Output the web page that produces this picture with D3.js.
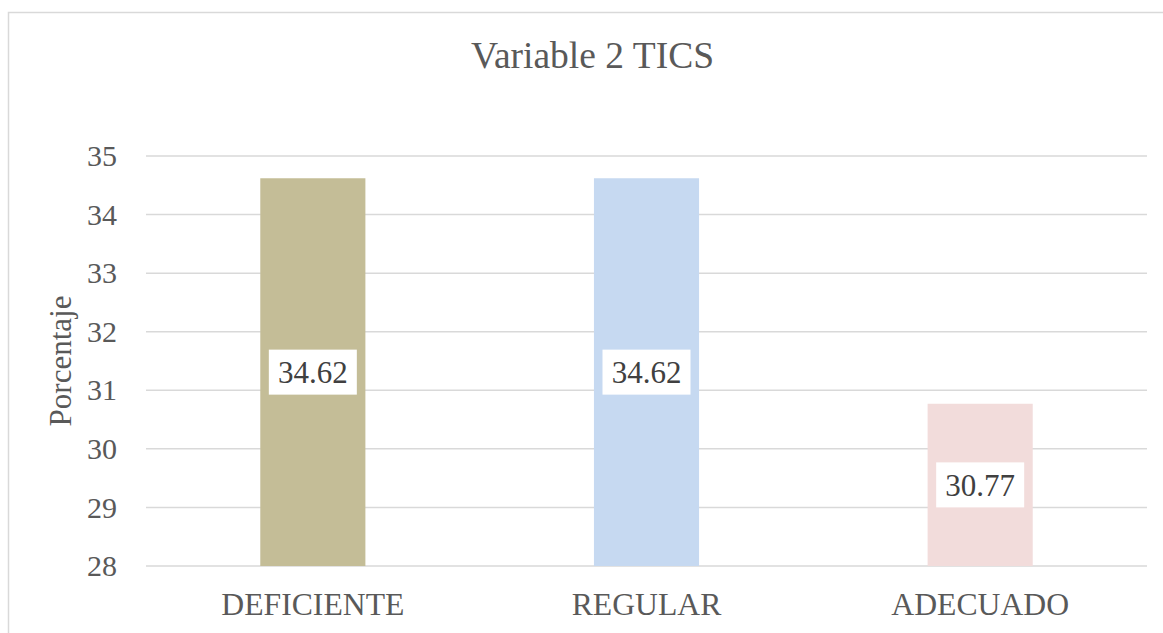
<!DOCTYPE html>
<html>
<head>
<meta charset="utf-8">
<script src="https://cdn.jsdelivr.net/npm/d3@7"></script>
</head>
<body style="margin:0">
<script>
// chart data
const categories = ["DEFICIENTE", "REGULAR", "ADECUADO"];
const values = [34.62, 34.62, 30.77];
const barColors = ["#c4bd97", "#c6d9f1", "#f2dcdb"];
const yTicks = [28, 29, 30, 31, 32, 33, 34, 35];

const width = 1163, height = 633;
const plot = { left: 146, right: 1147, top: 156, bottom: 566 };
const FONT = '"Liberation Serif"';

const svg = d3.select('body')
    .append('svg')
    .attr('width', width)
    .attr('height', height);

// outer chart border
svg.append('rect')
    .attr('x', 8.5)
    .attr('y', 12.5)
    .attr('width', width)
    .attr('height', height)
    .attr('fill', 'none')
    .attr('stroke', '#d9d9d9')
    .attr('stroke-width', 1.5);

const xScale = d3.scaleBand()
    .domain(categories)
    .range([plot.left, plot.right]);

const yScale = d3.scaleLinear()
    .domain([28, 35])
    .range([plot.bottom, plot.top]);

// gridlines
svg.append('g')
    .selectAll('line')
    .data(yTicks)
    .enter()
    .append('line')
    .attr('x1', plot.left)
    .attr('x2', plot.right)
    .attr('y1', d => yScale(d))
    .attr('y2', d => yScale(d))
    .attr('stroke', '#d9d9d9')
    .attr('stroke-width', 1.5);

// y axis tick labels
const yg = svg.append('g')
    .attr('transform', `translate(${plot.left}, 0)`)
    .call(d3.axisLeft(yScale)
        .tickValues(yTicks)
        .tickFormat(d3.format('d'))
        .tickSize(0)
        .tickPadding(29));
yg.select('.domain').remove();
yg.selectAll('text')
    .style('font-family', FONT)
    .style('font-size', '30px')
    .attr('fill', '#595959');

// x axis labels
const xg = svg.append('g')
    .attr('transform', `translate(0, ${plot.bottom})`)
    .call(d3.axisBottom(xScale)
        .tickSize(0)
        .tickPadding(26));
xg.select('.domain').remove();
xg.selectAll('text')
    .style('font-family', FONT)
    .style('font-size', '31.7px')
    .attr('fill', '#595959');

// bars
const barW = xScale.bandwidth() * 0.315;
const rows = categories.map((c, i) => ({ cat: c, val: values[i], color: barColors[i] }));

svg.append('g')
    .selectAll('rect')
    .data(rows)
    .enter()
    .append('rect')
    .attr('x', d => xScale(d.cat) + xScale.bandwidth() / 2 - barW / 2)
    .attr('y', d => yScale(d.val))
    .attr('width', barW)
    .attr('height', d => yScale(28) - yScale(d.val))
    .attr('fill', d => d.color);

// value labels in white boxes, centred in bar
const labels = svg.append('g')
    .selectAll('g')
    .data(rows)
    .enter()
    .append('g')
    .attr('transform', d => `translate(${xScale(d.cat) + xScale.bandwidth() / 2}, ${(yScale(d.val) + yScale(28)) / 2})`);

labels.append('rect')
    .attr('x', -44)
    .attr('y', -22.5)
    .attr('width', 88)
    .attr('height', 45)
    .attr('fill', '#fff');

labels.append('text')
    .attr('text-anchor', 'middle')
    .attr('dy', '0.36em')
    .style('font-family', FONT)
    .style('font-size', '31px')
    .attr('fill', '#404040')
    .text(d => d.val.toFixed(2));

// title
svg.append('text')
    .attr('x', 592.5)
    .attr('y', 68)
    .attr('text-anchor', 'middle')
    .style('font-family', FONT)
    .style('font-size', '37.5px')
    .attr('fill', '#595959')
    .text('Variable 2 TICS');

// y axis title
svg.append('text')
    .attr('transform', 'translate(71, 361) rotate(-90)')
    .attr('text-anchor', 'middle')
    .style('font-family', FONT)
    .style('font-size', '31px')
    .attr('fill', '#595959')
    .text('Porcentaje');
</script>
</body>
</html>
